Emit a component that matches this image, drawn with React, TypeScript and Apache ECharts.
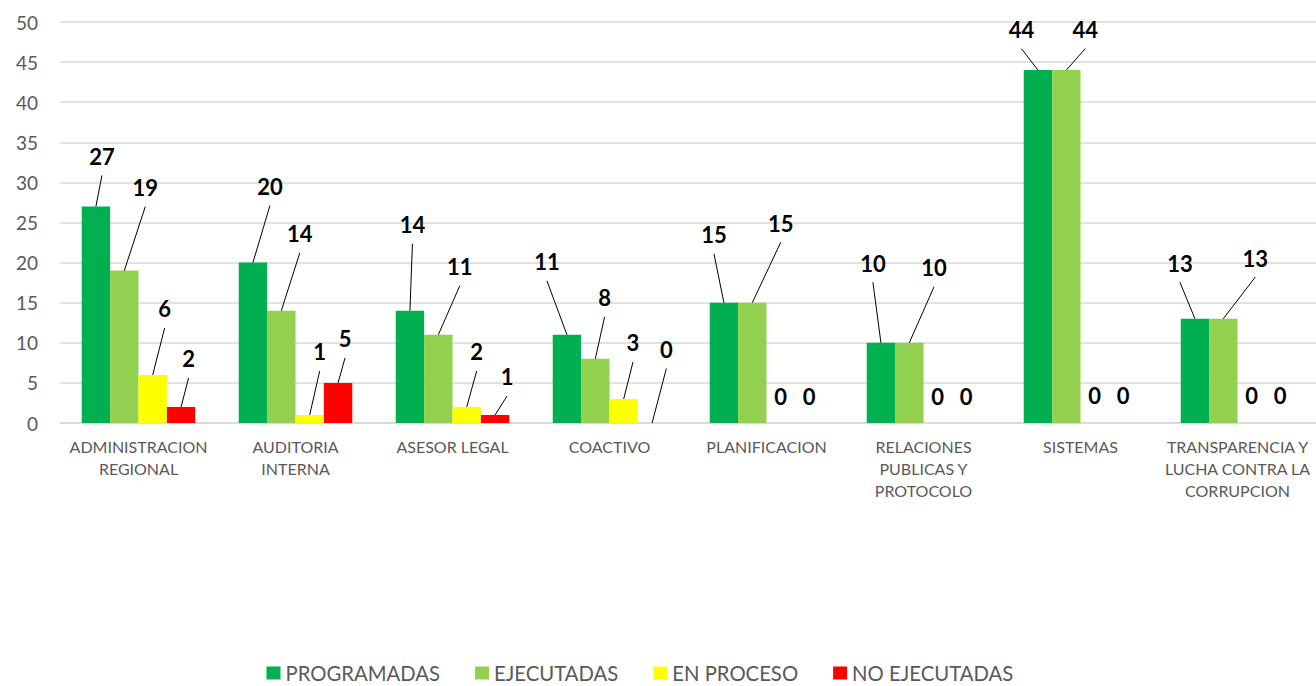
import React, { useEffect, useRef } from "react";
import * as echarts from "echarts";

const CATEGORIES = [
  "ADMINISTRACION\nREGIONAL",
  "AUDITORIA\nINTERNA",
  "ASESOR LEGAL",
  "COACTIVO",
  "PLANIFICACION",
  "RELACIONES\nPUBLICAS Y\nPROTOCOLO",
  "SISTEMAS",
  "TRANSPARENCIA Y\nLUCHA CONTRA LA\nCORRUPCION",
];

const SERIES_NAMES = ["PROGRAMADAS", "EJECUTADAS", "EN PROCESO", "NO EJECUTADAS"];

const PROGRAMADAS = [27, 20, 14, 11, 15, 10, 44, 13];
const EJECUTADAS = [19, 14, 11, 8, 15, 10, 44, 13];
const EN_PROCESO = [6, 1, 2, 3, 0, 0, 0, 0];
const NO_EJECUTADAS = [2, 5, 1, 0, 0, 0, 0, 0];

const Y_TICKS = { min: 0, max: 50, interval: 5 };

const COLORS = ["#00B050", "#92D050", "#FFFF00", "#FF0000"];

// label offsets relative to bar top-centre: [dx, dy, showLeaderLine]
const LABEL_OFFSETS: [number, number, boolean][][] = [
  [[6, -50, true], [17, -76, true], [2.5, -86, true], [-20, -73, true], [-10, -68, true], [-8, -79.5, true], [-16.5, -40.5, true], [-15, -55.5, true]],
  [[21, -83, true], [18.5, -77, true], [21.5, -68, true], [9.3, -61, true], [28.4, -79.4, true], [24.7, -75, true], [19, -40.5, true], [32, -60.7, true]],
  [[12, -66, true], [10, -63, true], [10, -55, true], [9.3, -56, true], [0, -27, false], [0, -27, false], [0, -28, false], [0, -28, false]],
  [[7.5, -48, true], [7, -44, true], [12, -38, true], [14.3, -73.5, true], [0, -27, false], [0, -27, false], [0, -28, false], [0, -28, false]],
];

const CATEGORY_GAP = 0.277;
const LINE_START_BELOW_LABEL = 19;

const FONT = "Lato, 'Noto Sans', sans-serif";

export default function App() {
  const ref = useRef<HTMLDivElement>(null);

  useEffect(() => {
    if (!ref.current) return;
    const chart = echarts.init(ref.current, undefined, { renderer: "svg" });
    const values = [PROGRAMADAS, EJECUTADAS, EN_PROCESO, NO_EJECUTADAS];

    const series: any[] = values.map((vals, s) => ({
      name: SERIES_NAMES[s],
      type: "bar",
      barGap: "0%",
      barCategoryGap: CATEGORY_GAP * 100 + "%",
      itemStyle: { color: COLORS[s] },
      data: vals,
      label: {
        show: true,
        position: "top",
        fontFamily: FONT,
        fontWeight: "bold",
        fontSize: 22,
        lineHeight: 22,
        color: "#000000",
      },
      labelLayout: (p: any) => {
        const o = LABEL_OFFSETS[p.seriesIndex][p.dataIndex];
        return {
          x: p.rect.x + p.rect.width / 2 + o[0],
          y: p.rect.y + o[1],
          align: "center",
          verticalAlign: "middle",
        };
      },
    }));

    const lineData: number[][] = [];
    values.forEach((vals, s) =>
      vals.forEach((v, i) => {
        if (LABEL_OFFSETS[s][i][2]) lineData.push([i, v, s]);
      })
    );

    series.push({
      type: "custom",
      name: "leader",
      silent: true,
      z: 3,
      encode: { x: 0, y: 1 },
      data: lineData,
      renderItem: (_params: any, api: any) => {
        const i = api.value(0);
        const v = api.value(1);
        const s = api.value(2);
        const pt = api.coord([i, v]);
        const catW = api.size([1, 0])[0];
        const bw = (catW * (1 - CATEGORY_GAP)) / 4;
        const bx = pt[0] + (s - 1.5) * bw;
        const o = LABEL_OFFSETS[s][i];
        return {
          type: "line",
          shape: { x1: bx, y1: pt[1], x2: bx + o[0], y2: pt[1] + o[1] + LINE_START_BELOW_LABEL },
          style: { stroke: "#000000", lineWidth: 1 },
        };
      },
    });

    chart.setOption({
      animation: false,
      backgroundColor: "#ffffff",
      grid: { left: 60, right: -6, top: 22, bottom: 263, containLabel: false },
      legend: {
        data: SERIES_NAMES,
        left: 261.5,
        top: 658,
        itemWidth: 14,
        itemHeight: 13,
        itemGap: 35,
        icon: "rect",
        textStyle: { fontFamily: FONT, fontSize: 20.3, color: "#595959" },
      },
      xAxis: {
        type: "category",
        data: CATEGORIES,
        axisLine: { show: true, lineStyle: { color: "#D9D9D9", width: 1.5 } },
        axisTick: { show: false },
        axisLabel: {
          interval: 0,
          margin: 12,
          fontFamily: FONT,
          fontSize: 16,
          lineHeight: 22,
          color: "#595959",
        },
      },
      yAxis: {
        type: "value",
        min: Y_TICKS.min,
        max: Y_TICKS.max,
        interval: Y_TICKS.interval,
        axisLine: { show: false },
        axisTick: { show: false },
        splitLine: { lineStyle: { color: "#D9D9D9", width: 1.5 } },
        axisLabel: { fontFamily: FONT, fontSize: 19, color: "#595959", margin: 22 },
      },
      series,
    });
    return () => chart.dispose();
  }, []);

  return (
    <div
      ref={ref}
      style={{ position: "fixed", left: 0, top: 0, width: 1316, height: 686, background: "#fff" }}
    />
  );
}
